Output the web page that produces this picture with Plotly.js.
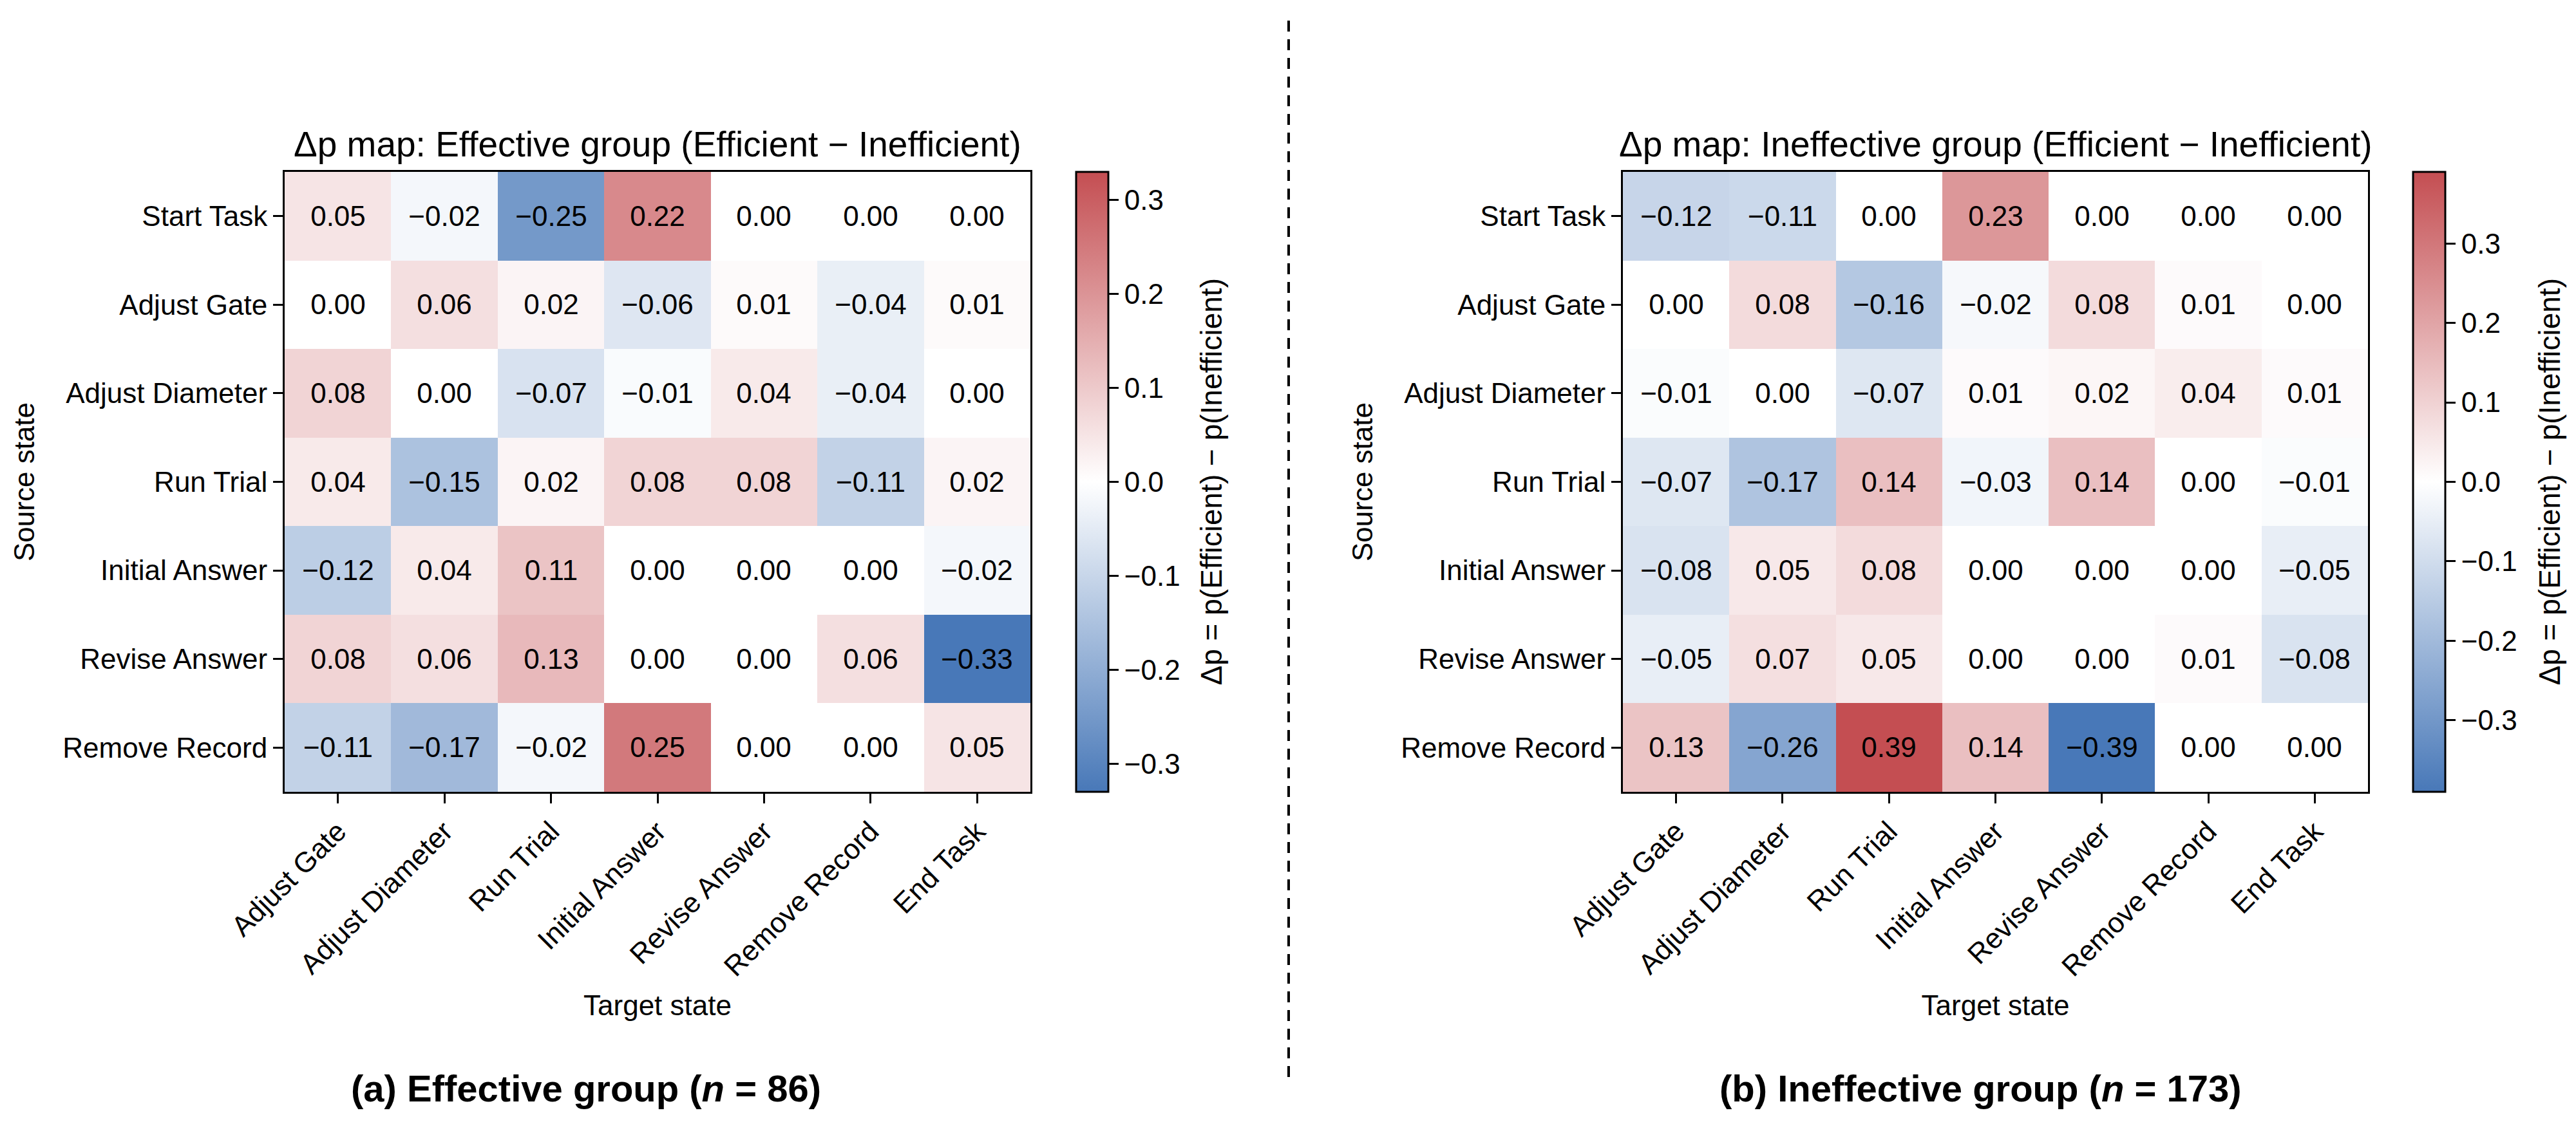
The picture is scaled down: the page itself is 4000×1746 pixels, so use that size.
<!DOCTYPE html>
<html>
<head>
<meta charset="utf-8">
<script src="https://cdn.plot.ly/plotly-3.0.1.min.js"></script>
<style>html,body{margin:0;padding:0;background:#fff;}#chart{width:4000px;height:1746px;}</style>
</head>
<body>
<div id="chart"></div>
<script>
// ---- Data ----
const sourceStates = ["Start Task", "Adjust Gate", "Adjust Diameter", "Run Trial", "Initial Answer", "Revise Answer", "Remove Record"];
const targetStates = ["Adjust Gate", "Adjust Diameter", "Run Trial", "Initial Answer", "Revise Answer", "Remove Record", "End Task"];

const effectiveDelta = [
  [0.05, -0.02, -0.25, 0.22, 0.00, 0.00, 0.00],
  [0.00, 0.06, 0.02, -0.06, 0.01, -0.04, 0.01],
  [0.08, 0.00, -0.07, -0.01, 0.04, -0.04, 0.00],
  [0.04, -0.15, 0.02, 0.08, 0.08, -0.11, 0.02],
  [-0.12, 0.04, 0.11, 0.00, 0.00, 0.00, -0.02],
  [0.08, 0.06, 0.13, 0.00, 0.00, 0.06, -0.33],
  [-0.11, -0.17, -0.02, 0.25, 0.00, 0.00, 0.05]
];

const ineffectiveDelta = [
  [-0.12, -0.11, 0.00, 0.23, 0.00, 0.00, 0.00],
  [0.00, 0.08, -0.16, -0.02, 0.08, 0.01, 0.00],
  [-0.01, 0.00, -0.07, 0.01, 0.02, 0.04, 0.01],
  [-0.07, -0.17, 0.14, -0.03, 0.14, 0.00, -0.01],
  [-0.08, 0.05, 0.08, 0.00, 0.00, 0.00, -0.05],
  [-0.05, 0.07, 0.05, 0.00, 0.00, 0.01, -0.08],
  [0.13, -0.26, 0.39, 0.14, -0.39, 0.00, 0.00]
];

const cbTickVals = [-0.3, -0.2, -0.1, 0.0, 0.1, 0.2, 0.3];
const cbTickText = ["\u22120.3", "\u22120.2", "\u22120.1", "0.0", "0.1", "0.2", "0.3"];

const panelTitles = ["\u0394p map: Effective group (Efficient \u2212 Inefficient)", "\u0394p map: Ineffective group (Efficient \u2212 Inefficient)"];
const captions = ["<b>(a) Effective group (<i>n</i> = 86)</b>", "<b>(b) Ineffective group (<i>n</i> = 173)</b>"];
const cbLabel = "\u0394p = p(Efficient) \u2212 p(Inefficient)";

// ---- Helpers ----
const W = 4000, H = 1746;
const FONT = "Liberation Sans, Arial, Helvetica, sans-serif";
const colorscale = [[0, "#4878B8"], [0.5, "#FFFFFF"], [1, "#C44E52"]];
function fmt(v) { const s = v.toFixed(2); return (v < 0 && s !== "-0.00") ? "\u2212" + s.slice(1) : s.replace("-", ""); }
function maxAbs(m) { return Math.max(...m.flat().map(Math.abs)); }
const px = x => x / W, py = y => 1 - y / H;

const yTop = py(267), yBot = py(1230);
const yMid = (yTop + yBot) / 2, yLen = yTop - yBot;

function heat(z, xa, ya, cbx) {
  const m = maxAbs(z);
  return {
    type: "heatmap", x: targetStates, y: sourceStates, z: z,
    xaxis: xa, yaxis: ya,
    colorscale: colorscale, zmin: -m, zmax: m,
    text: z.map(r => r.map(fmt)), texttemplate: "%{text}",
    textfont: {family: FONT, size: 44, color: "#000"},
    xgap: 0, ygap: 0, hoverinfo: "skip",
    colorbar: {
      x: cbx, xanchor: "left", xref: "paper", y: yMid, yanchor: "middle", len: yLen, lenmode: "fraction",
      thickness: 50, thicknessmode: "pixels", xpad: 0, ypad: 0,
      outlinewidth: 3, outlinecolor: "#000",
      tickvals: cbTickVals, ticktext: cbTickText,
      ticks: "outside", ticklen: 15, tickwidth: 3, tickcolor: "#000",
      tickfont: {family: FONT, size: 44, color: "#000"}
    }
  };
}

const axX = (dom) => ({
  domain: dom, type: "category", tickangle: -45,
  showline: true, mirror: true, linecolor: "#000", linewidth: 3,
  ticks: "outside", ticklen: 15, tickwidth: 3, tickcolor: "#000",
  tickfont: {family: FONT, size: 44, color: "#000"},
  showgrid: false, zeroline: false, automargin: false,
  title: {text: "Target state", font: {family: FONT, size: 44, color: "#000"}, standoff: 22}
});
const axY = (anchor) => ({
  domain: [yBot, yTop], type: "category", autorange: "reversed", anchor: anchor,
  showline: true, mirror: true, linecolor: "#000", linewidth: 3,
  ticks: "outside", ticklen: 15, tickwidth: 3, tickcolor: "#000",
  tickfont: {family: FONT, size: 44, color: "#000"},
  showgrid: false, zeroline: false, automargin: false,
  title: {text: "Source state", font: {family: FONT, size: 44, color: "#000"}, standoff: 30}
});

const data = [
  heat(effectiveDelta, "x", "y", px(1671)),
  heat(ineffectiveDelta, "x2", "y2", px(3747))
];

const layout = {
  width: W, height: H, margin: {l: 0, r: 0, t: 0, b: 0},
  paper_bgcolor: "#fff", plot_bgcolor: "#fff",
  font: {family: FONT, color: "#000"},
  showlegend: false,
  xaxis: Object.assign(axX([px(442), px(1600)]), {anchor: "y"}),
  yaxis: axY("x"),
  xaxis2: Object.assign(axX([px(2520), px(3677)]), {anchor: "y2"}),
  yaxis2: axY("x2"),
  annotations: [
    {text: panelTitles[0], x: px(1021), y: py(224), xref: "paper", yref: "paper", xanchor: "center", yanchor: "middle", showarrow: false, font: {family: FONT, size: 55, color: "#000"}},
    {text: panelTitles[1], x: px(3098), y: py(224), xref: "paper", yref: "paper", xanchor: "center", yanchor: "middle", showarrow: false, font: {family: FONT, size: 55, color: "#000"}},
    {text: captions[0], x: px(910), y: py(1690), xref: "paper", yref: "paper", xanchor: "center", yanchor: "middle", showarrow: false, font: {family: FONT, size: 58, color: "#000"}},
    {text: captions[1], x: px(3075), y: py(1690), xref: "paper", yref: "paper", xanchor: "center", yanchor: "middle", showarrow: false, font: {family: FONT, size: 58, color: "#000"}},
    {text: cbLabel, x: px(1880), y: yMid, xref: "paper", yref: "paper", xanchor: "center", yanchor: "middle", textangle: -90, showarrow: false, font: {family: FONT, size: 46, color: "#000"}},
    {text: cbLabel, x: px(3958), y: yMid, xref: "paper", yref: "paper", xanchor: "center", yanchor: "middle", textangle: -90, showarrow: false, font: {family: FONT, size: 46, color: "#000"}}
  ],
  shapes: [
    {type: "line", xref: "paper", yref: "paper", x0: px(2001), x1: px(2001), y0: py(32), y1: py(1685), line: {color: "#000", width: 4, dash: "17px,12px"}}
  ]
};

Plotly.newPlot("chart", data, layout, {staticPlot: true, displayModeBar: false});
</script>
</body>
</html>
